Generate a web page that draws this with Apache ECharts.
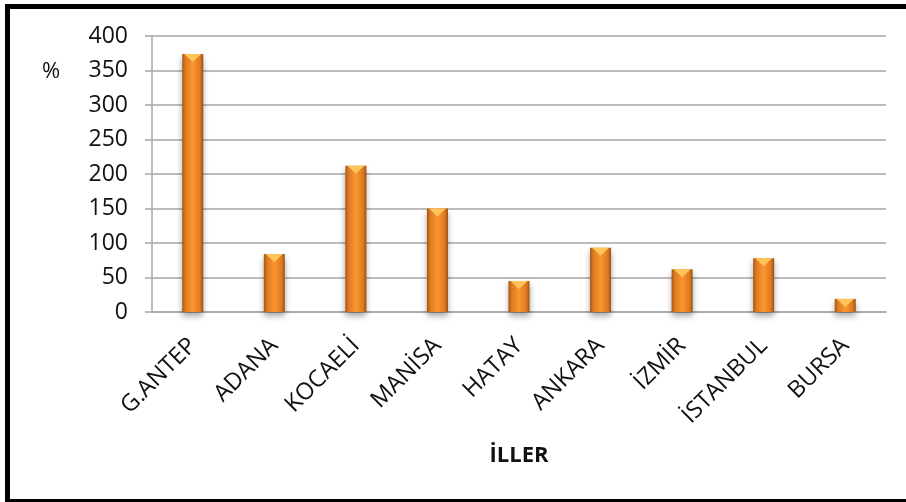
<!DOCTYPE html>
<html>
<head>
<meta charset="utf-8">
<script src="https://cdn.jsdelivr.net/npm/echarts@6/dist/echarts.min.js"></script>
<style>
html,body{margin:0;padding:0;background:#fff;}
#c{width:906px;height:502px;}
</style>
</head>
<body>
<div id="c"></div>
<script>
const categories = ['G.ANTEP','ADANA','KOCAELİ','MANİSA','HATAY','ANKARA','İZMİR','İSTANBUL','BURSA'];
const values = [374, 84, 212, 150, 45, 93, 62, 78, 19];
const yTicks = {min: 0, max: 400, interval: 50};
const yName = '%';
const xName = 'İLLER';

const font = '"Open Sans", "DejaVu Sans", sans-serif';
const chart = echarts.init(document.getElementById('c'), null, {renderer: 'canvas'});
chart.setOption({
  backgroundColor: '#ffffff',
  animation: false,
  grid: {left: 152, right: 20, top: 36, bottom: 190, containLabel: false},
  graphic: [
    {type: 'rect', shape: {x: 7.5, y: 6.5, width: 1000, height: 495}, style: {fill: 'none', stroke: '#000', lineWidth: 5}, silent: true, z: 100},
    {type: 'text', left: 42, top: 61, style: {text: yName, fill: '#111', font: '22px ' + font}}
  ],
  xAxis: {
    type: 'category',
    data: categories,
    name: xName,
    nameLocation: 'middle',
    nameGap: 133,
    nameTextStyle: {fontFamily: font, fontSize: 22, fontWeight: 'bold', color: '#111'},
    axisLine: {show: true, lineStyle: {color: '#a6a6a6', width: 1.5}},
    axisTick: {show: false},
    axisLabel: {rotate: 45, margin: 30, fontFamily: font, fontSize: 23.5, color: '#111', interval: 0}
  },
  yAxis: {
    type: 'value',
    min: yTicks.min, max: yTicks.max, interval: yTicks.interval,
    axisLine: {show: true, lineStyle: {color: '#a6a6a6', width: 1.5}},
    axisTick: {show: true, length: 7, lineStyle: {color: '#a6a6a6', width: 1.5}},
    axisLabel: {margin: 24, fontFamily: font, fontSize: 23, color: '#111'},
    splitLine: {show: true, lineStyle: {color: '#a6a6a6', width: 1.5}}
  },
  series: [
    {
      type: 'bar',
      data: values,
      barWidth: 21,
      barGap: '-100%',
      itemStyle: {
        color: new echarts.graphic.LinearGradient(0, 0, 1, 0, [
          {offset: 0, color: '#a65310'},
          {offset: 0.15, color: '#dd7a22'},
          {offset: 0.5, color: '#fb962f'},
          {offset: 0.85, color: '#dd7a22'},
          {offset: 1, color: '#9c4e10'}
        ]),
        shadowColor: 'rgba(0,0,0,0.35)',
        shadowBlur: 6,
        shadowOffsetY: 4
      },
      z: 2
    },
    {
      type: 'pictorialBar',
      data: values,
      barWidth: 21,
      barGap: '-100%',
      symbol: 'triangle',
      symbolRotate: 180,
      symbolSize: [17, 8],
      symbolPosition: 'end',
      itemStyle: {color: '#ffc45a'},
      z: 3
    }
  ]
});
</script>
</body>
</html>
